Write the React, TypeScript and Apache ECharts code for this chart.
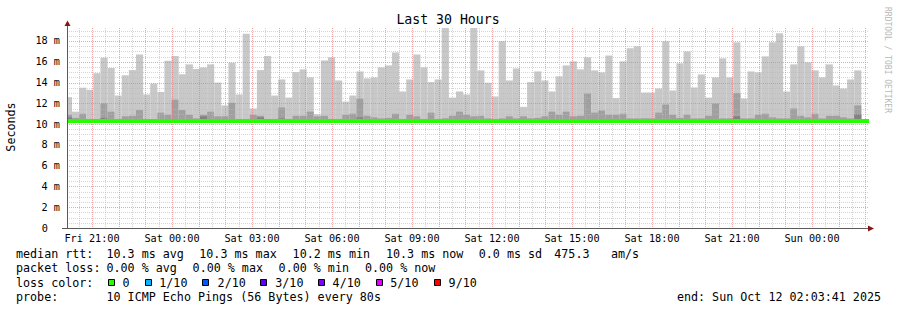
import React, { useEffect, useRef } from "react";
import * as echarts from "echarts";

// ---- data ----
// Smoke: per 16-minute bin, top of the outer (max) layer, of the 2nd layer and of the 3rd layer, in ms
const maxRtt = [
  12.6, 11.2, 13.5, 13.3, 14.9, 16.4, 15.4, 12.75, 14.7, 15.2, 16.7, 12.85, 13.9, 13.1, 16.1, 16.55,
  14.8, 15.75, 15.3, 15.45, 15.75, 14.0, 11.8, 15.9, 12.85, 18.7, 11.5, 15.2, 16.55,
  12.75, 14.3, 12.55, 15.0, 15.27, 14.5, 10.95, 16.13, 16.43, 14.2, 12.17, 12.75, 15.07, 14.4, 14.5,
  15.46, 15.65, 16.9, 13.14, 14.3, 16.7, 15.46, 14.04, 14.3, 19.3, 12.55, 13.14, 12.85, 19.3,
  15.17, 13.98, 12.66, 17.97, 14.2, 15.36, 11.66, 14.04, 15.07, 14.2, 13.14, 14.6, 15.65, 16.04,
  15.27, 16.43, 15.17, 14.98, 16.6, 12.5, 16.04, 17.3, 17.49, 13.04, 13.04, 13.43, 17.97, 13.24, 15.85,
  17.0, 13.53, 14.78, 12.55, 14.5, 16.33, 14.5, 17.87, 12.46, 15.07, 14.98, 16.52, 17.87, 18.74,
  13.14, 15.75, 17.49, 15.94, 15.17, 14.5, 15.75, 13.72, 13.43, 14.3, 15.17,
];
const p9Rtt = [
  10.9, 10.6, 11.0, 10.5, 10.5, 12.0, 11.2, 10.5, 10.75, 10.8, 11.35, 10.5, 10.5, 11.1, 10.9, 12.35,
  11.35, 10.9, 10.55, 10.9, 11.2, 10.75, 10.75, 12.05, 10.5, 10.5, 10.9, 10.8, 10.5,
  10.5, 11.6, 10.5, 10.8, 10.8, 11.2, 10.75, 10.8, 10.5, 10.5, 10.9, 11.0, 12.45, 10.8, 10.65,
  10.55, 10.6, 11.0, 10.5, 10.9, 10.75, 10.5, 11.1, 10.5, 10.55, 10.8, 11.2, 10.9, 10.75,
  10.8, 10.55, 10.5, 10.55, 10.75, 10.55, 10.75, 10.55, 10.6, 10.75, 11.2, 10.9, 11.2, 10.75,
  10.8, 12.95, 11.1, 11.3, 10.9, 10.9, 11.0, 10.55, 10.55, 10.55, 10.55, 11.1, 11.88, 10.9, 10.6,
  10.9, 10.55, 10.55, 10.8, 11.98, 10.55, 10.55, 13.0, 10.55, 10.55, 10.9, 11.0, 10.65, 10.55,
  10.55, 11.5, 10.8, 10.65, 11.0, 10.55, 10.8, 10.8, 10.65, 10.55, 11.8,
];
const p8Rtt = [
  10.65, 10.4, 10.4, 10.4, 10.4, 10.6, 10.4, 10.4, 10.4, 10.4, 10.4, 10.4, 10.4, 10.4, 10.4, 10.4,
  10.4, 10.4, 10.4, 10.75, 10.4, 10.4, 10.4, 10.4, 10.4, 10.4, 10.4, 10.65, 10.4,
  10.4, 10.55, 10.4, 10.4, 10.4, 10.4, 10.4, 10.4, 10.4, 10.4, 10.4, 10.4, 10.65, 10.4, 10.4,
  10.4, 10.4, 10.4, 10.4, 10.4, 10.4, 10.4, 10.4, 10.4, 10.5, 10.4, 10.4, 10.4, 10.4,
  10.4, 10.4, 10.4, 10.4, 10.4, 10.4, 10.4, 10.5, 10.4, 10.4, 10.4, 10.4, 10.4, 10.4,
  10.4, 10.4, 10.4, 10.4, 10.4, 10.4, 10.4, 10.4, 10.4, 10.5, 10.4, 10.4, 10.4, 10.4, 10.4,
  10.4, 10.4, 10.4, 10.4, 10.4, 10.4, 10.4, 10.75, 10.4, 10.5, 10.4, 10.4, 10.4, 10.4,
  10.4, 10.4, 10.4, 10.4, 10.4, 10.4, 10.4, 10.4, 10.4, 10.4, 10.95,
];
const medianRtt = [
  10.3, 10.3, 10.3, 10.3, 10.3, 10.3, 10.3, 10.3, 10.3, 10.3, 10.3, 10.3, 10.3, 10.3, 10.3, 10.3,
  10.3, 10.3, 10.3, 10.3, 10.3, 10.3, 10.3, 10.3, 10.3, 10.3, 10.3, 10.3, 10.3, 10.3, 10.3, 10.3,
  10.3, 10.3, 10.3, 10.3, 10.3, 10.3, 10.3, 10.3, 10.3, 10.3, 10.3, 10.3, 10.3, 10.3, 10.3, 10.3,
  10.3, 10.3, 10.3, 10.3, 10.3, 10.3, 10.3, 10.3, 10.3, 10.3, 10.3, 10.3, 10.3, 10.3, 10.3, 10.3,
  10.3, 10.3, 10.3, 10.3, 10.3, 10.3, 10.3, 10.3, 10.3, 10.3, 10.3, 10.3, 10.3, 10.3, 10.3, 10.3,
  10.3, 10.3, 10.3, 10.3, 10.3, 10.3, 10.3, 10.3, 10.3, 10.3, 10.3, 10.3, 10.3, 10.3, 10.3, 10.3,
  10.3, 10.3, 10.3, 10.3, 10.3, 10.3, 10.3, 10.3, 10.3, 10.3, 10.3, 10.3, 10.3, 10.3, 10.3, 10.3,
];
const SMOKE_FLOOR = 10.2;

// time axis: seconds after Fri 20:03:41 (graph start), 30 hours
const RANGE_SECONDS = 108000;
const BIN_SECONDS = 960;
const FIRST_BIN_END = 675;
const timeLabels = [
  "Fri 21:00", "Sat 00:00", "Sat 03:00", "Sat 06:00", "Sat 09:00",
  "Sat 12:00", "Sat 15:00", "Sat 18:00", "Sat 21:00", "Sun 00:00",
];
const timeLabelSeconds = [3379, 14179, 24979, 35779, 46579, 57379, 68179, 78979, 89779, 100579];
const FIRST_HOUR = 3379;
const FIRST_HALF_HOUR = 1579;

const Y_MAX = 19.25;
const yMajor = [2, 4, 6, 8, 10, 12, 14, 16, 18];
const yMinor = [0.5, 1, 1.5, 2.5, 3, 3.5, 4.5, 5, 5.5, 6.5, 7, 7.5, 8.5, 9, 9.5, 10.5, 11, 11.5,
  12.5, 13, 13.5, 14.5, 15, 15.5, 16.5, 17, 17.5, 18.5, 19];

// legend
const lossColors = ["#26ff00", "#00b8ff", "#0059ff", "#5e00ff", "#7e00ff", "#dd00ff", "#ff0000"];
const lossLabels = ["0", "1/10", "2/10", "3/10", "4/10", "5/10", "9/10"];
const rttStats = ["10.3 ms avg", "10.3 ms max", "10.2 ms min", "10.3 ms now", "0.0 ms sd", "475.3", "am/s"];
const lossStats = ["0.00 % avg", "0.00 % max", "0.00 % min", "0.00 % now"];

const MONO = "'DejaVu Sans Mono', monospace";

function binStart(k: number) {
  return k === 0 ? 0 : FIRST_BIN_END + (k - 1) * BIN_SECONDS;
}
function binEnd(k: number) {
  return FIRST_BIN_END + k * BIN_SECONDS;
}

function buildOption() {
  const smokeData = maxRtt.map((m, k) => [binStart(k), binEnd(k), m, p9Rtt[k], p8Rtt[k]]);
  const medianData = medianRtt.slice(0, maxRtt.length).map((m, k) => [
    binStart(k),
    k === maxRtt.length - 1 ? RANGE_SECONDS : binEnd(k),
    m,
  ]);
  const hLines: number[][] = [];
  yMinor.forEach((v) => hLines.push([0, v, 0]));
  yMajor.forEach((v) => hLines.push([0, v, 1]));
  const vLines: number[][] = [];
  for (let t = FIRST_HALF_HOUR; t <= RANGE_SECONDS; t += 3600) vLines.push([t, 0, 0]);
  for (let t = FIRST_HOUR; t <= RANGE_SECONDS; t += 3600) vLines.push([t, 0, 1]);

  const MINOR = "rgba(185,185,185,0.6)";
  const MAJOR = "rgba(230,120,120,0.65)";

  const legendRow = (y: number, items: [number, string][]) =>
    items.map(([x, text]) => ({
      type: "text",
      x,
      y,
      silent: true,
      style: { text, fill: "#000", font: `11.7px ${MONO}`, align: "left", verticalAlign: "middle" },
    }));

  const rttX = [106.5, 199.3, 292.6, 386, 478.8, 554.3, 611];
  const lossX = [106.5, 192.6, 278.6, 365];
  const swatchX = [108.5, 145.5, 202.5, 260.5, 318.5, 376.5, 434.5];
  const swatchLabelX = [122.6, 159.3, 217.6, 275.3, 332.6, 390.3, 448.6];

  const graphic: any[] = [
    // title
    {
      type: "text", x: 448, y: 19.5, silent: true,
      style: { text: "Last 30 Hours", fill: "#000", font: `13.2px ${MONO}`, align: "center", verticalAlign: "middle" },
    },
    // y unit
    {
      type: "text", x: 11, y: 127, rotation: Math.PI / 2, silent: true,
      style: { text: "Seconds", fill: "#000", font: `11.7px ${MONO}`, align: "center", verticalAlign: "middle" },
    },
    // watermark
    {
      type: "text", x: 887.5, y: 60, rotation: -Math.PI / 2, silent: true,
      style: { text: "RRDTOOL / TOBI OETIKER", fill: "#b8b8b8", font: `8px ${MONO}`, align: "center", verticalAlign: "middle" },
    },
    // axes
    { type: "line", silent: true, z: 10, shape: { x1: 67.5, y1: 229, x2: 67.5, y2: 25 }, style: { stroke: "#5a5a5a", lineWidth: 1 } },
    { type: "line", silent: true, z: 10, shape: { x1: 62, y1: 228.5, x2: 869, y2: 228.5 }, style: { stroke: "#5a5a5a", lineWidth: 1 } },
    { type: "polygon", silent: true, z: 10, shape: { points: [[64.5, 26], [70.5, 26], [67.5, 20.5]] }, style: { fill: "#8b1515" } },
    { type: "polygon", silent: true, z: 10, shape: { points: [[868, 225.5], [868, 231.5], [874, 228.5]] }, style: { fill: "#8b1515" } },
    ...legendRow(254.3, [[16, "median rtt:"], ...rttStats.map((s, i) => [rttX[i], s] as [number, string])]),
    ...legendRow(268.3, [[16, "packet loss:"], ...lossStats.map((s, i) => [lossX[i], s] as [number, string])]),
    ...legendRow(282.6, [[16, "loss color:"], ...lossLabels.map((s, i) => [swatchLabelX[i], s] as [number, string])]),
    ...lossColors.map((c, i) => ({
      type: "rect", silent: true,
      shape: { x: swatchX[i], y: 279.5, width: 6, height: 6 },
      style: { fill: c, stroke: "#000", lineWidth: 1 },
    })),
    ...legendRow(296.6, [[16, "probe:"], [106.5, "10 ICMP Echo Pings (56 Bytes) every 80s"]]),
    {
      type: "text", x: 881, y: 296.6, silent: true,
      style: { text: "end: Sun Oct 12 02:03:41 2025", fill: "#000", font: `11.7px ${MONO}`, align: "right", verticalAlign: "middle" },
    },
  ];

  return {
    animation: false,
    backgroundColor: "#ffffff",
    grid: { left: 67, top: 28, width: 800, height: 200, containLabel: false, outerBoundsMode: "none" },
    xAxis: {
      type: "value",
      min: 0,
      max: RANGE_SECONDS,
      splitLine: { show: false },
      axisLine: { show: false },
      axisTick: { show: false },
      axisLabel: {
        customValues: timeLabelSeconds,
        formatter: (v: number) => {
          const i = timeLabelSeconds.indexOf(Math.round(v));
          return i >= 0 ? timeLabels[i] : "";
        },
        fontFamily: MONO,
        fontSize: 10.2,
        color: "#000",
        margin: 5,
      },
    },
    yAxis: {
      type: "value",
      min: 0,
      max: Y_MAX,
      interval: 2,
      splitLine: { show: false },
      axisLine: { show: false },
      axisTick: { show: false },
      axisLabel: {
        formatter: (v: number) => {
          if (v === 0) return "{z|0}";
          if (Math.abs(v % 2) < 1e-9) return `${v} m`;
          return "";
        },
        rich: { z: { padding: [0, 12, 0, 0], fontFamily: MONO, fontSize: 10.2, color: "#000" } },
        fontFamily: MONO,
        fontSize: 10.2,
        color: "#000",
        margin: 7,
      },
    },
    series: [
      {
        type: "custom",
        name: "smoke",
        z: 1,
        clip: true,
        data: smokeData,
        encode: { x: [0, 1], y: [2, 3, 4] },
        renderItem: (_params: any, api: any) => {
          const x0 = api.value(0), x1 = api.value(1);
          const base = api.coord([x0, SMOKE_FLOOR]);
          const right = api.coord([x1, SMOKE_FLOOR])[0];
          const layer = (v: number, fill: string) => {
            const y = api.coord([x0, v])[1];
            return {
              type: "rect",
              shape: { x: base[0], y, width: right - base[0], height: base[1] - y },
              style: { fill },
            };
          };
          return {
            type: "group",
            children: [
              layer(api.value(2), "#c8c8c8"),
              layer(api.value(3), "#a0a0a0"),
              layer(api.value(4), "#828282"),
            ],
          };
        },
      },
      {
        type: "custom",
        name: "hgrid",
        z: 2,
        silent: true,
        data: hLines,
        encode: { x: 0, y: 1 },
        renderItem: (params: any, api: any) => {
          const cs = params.coordSys;
          const y = Math.round(api.coord([0, api.value(1)])[1]) + 0.5;
          return {
            type: "line",
            shape: { x1: cs.x, y1: y, x2: cs.x + cs.width + 1, y2: y },
            style: { stroke: api.value(2) ? MAJOR : MINOR, lineWidth: 1, lineDash: [1, 1] },
          };
        },
      },
      {
        type: "custom",
        name: "vgrid",
        z: 2,
        silent: true,
        data: vLines,
        encode: { x: 0, y: 1 },
        renderItem: (params: any, api: any) => {
          const cs = params.coordSys;
          const x = Math.round(api.coord([api.value(0), 0])[0]) + 0.5;
          return {
            type: "line",
            shape: { x1: x, y1: cs.y, x2: x, y2: cs.y + cs.height },
            style: { stroke: api.value(2) ? MAJOR : MINOR, lineWidth: 1, lineDash: [1, 1] },
          };
        },
      },
      {
        type: "custom",
        name: "median",
        z: 3,
        silent: true,
        data: medianData,
        encode: { x: [0, 1], y: 2 },
        renderItem: (_params: any, api: any) => {
          const a = api.coord([api.value(0), api.value(2)]);
          const b = api.coord([api.value(1), api.value(2)]);
          return {
            type: "rect",
            shape: { x: a[0], y: a[1] - 2, width: b[0] - a[0] + 2, height: 4 },
            style: { fill: lossColors[0] },
          };
        },
      },
    ],
    graphic,
  };
}

export default function App() {
  const ref = useRef<HTMLDivElement>(null);
  useEffect(() => {
    document.body.style.margin = "0";
    const chart = echarts.init(ref.current!, undefined, { renderer: "svg" });
    chart.setOption(buildOption() as any);
    return () => chart.dispose();
  }, []);
  return <div ref={ref} style={{ width: 897, height: 310, position: "absolute", left: 0, top: 0 }} />;
}
